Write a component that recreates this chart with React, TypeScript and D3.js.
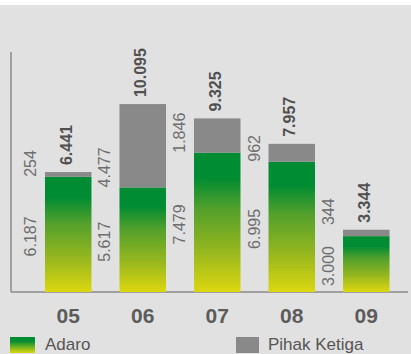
import React from "react";
import * as d3 from "d3";

const categories = ["05", "06", "07", "08", "09"];
const adaro = [6187, 5617, 7479, 6995, 3000];
const pihak = [254, 4477, 1846, 962, 344];
const totals = [6441, 10095, 9325, 7957, 3344];
const legendLabels = ["Adaro", "Pihak Ketiga"];

const W = 411;
const H = 354;
const fmt = (v: number) => d3.format(",")(v).replace(/,/g, ".");

export default function App() {
  const x = d3
    .scaleBand<string>()
    .domain(categories)
    .range([11, 423.5])
    .paddingInner(0.376)
    .paddingOuter(0.456);
  const y = d3.scaleLinear().domain([0, 12890]).range([292, 52]);
  const bw = x.bandwidth();
  const font = "'Liberation Sans', Arial, Helvetica, sans-serif";

  return (
    <svg
      width={W}
      height={H}
      style={{ position: "absolute", left: 0, top: 0, fontFamily: font }}
    >
      <defs>
        <linearGradient id="gBar" x1="0" y1="0" x2="0" y2="1">
          <stop offset="0" stopColor="#008c32" />
          <stop offset="0.18" stopColor="#008c32" />
          <stop offset="0.4" stopColor="#52a02c" />
          <stop offset="0.7" stopColor="#95b61f" />
          <stop offset="1" stopColor="#dcd70f" />
        </linearGradient>
        <linearGradient id="gLeg" x1="0" y1="0" x2="0" y2="1">
          <stop offset="0" stopColor="#008c32" />
          <stop offset="0.25" stopColor="#008c32" />
          <stop offset="1" stopColor="#dcd70f" />
        </linearGradient>
      </defs>
      <rect x={0} y={5} width={W} height={H - 5} fill="#e1e1e1" />
      <line x1={11} x2={11} y1={y.range()[1]} y2={y(0)} stroke="#8a8a8a" strokeWidth={1.5} />
      <line x1={11} x2={408} y1={y(0)} y2={y(0)} stroke="#8a8a8a" strokeWidth={1.5} />
      {categories.map((c, i) => {
        const x0 = x(c)!;
        const cx = x0 + bw / 2;
        const gTop = y(adaro[i]);
        const tTop = y(adaro[i] + pihak[i]);
        const adaroMid = (gTop + y(0)) / 2 + 2;
        const adaroTop = adaroMid - 21;
        const pStart = Math.min(gTop, adaroTop - 20);
        const lx = x0 - 9;
        return (
          <g key={c}>
            <rect x={x0} y={gTop} width={bw} height={y(0) - gTop} fill="url(#gBar)" />
            <rect x={x0} y={tTop} width={bw} height={gTop - tTop} fill="#898989" />
            <text
              transform={`translate(${lx},${adaroMid}) rotate(-90)`}
              textAnchor="middle"
              fontSize={16}
              fill="#6e6e6e"
            >
              {fmt(adaro[i])}
            </text>
            <text
              transform={`translate(${lx},${pStart}) rotate(-90)`}
              textAnchor="start"
              fontSize={16}
              fill="#6e6e6e"
            >
              {fmt(pihak[i])}
            </text>
            <text
              transform={`translate(${cx + 3.5},${tTop - 7}) rotate(-90)`}
              textAnchor="start"
              fontSize={16}
              fontWeight="bold"
              fill="#505050"
            >
              {fmt(totals[i])}
            </text>
            <text
              x={cx}
              y={323}
              textAnchor="middle"
              fontSize={21}
              fontWeight="bold"
              fill="#5c5c5c"
            >
              {c}
            </text>
          </g>
        );
      })}
      <rect x={10} y={337} width={25} height={16} fill="url(#gLeg)" />
      <text x={45} y={350} fontSize={17} fill="#555">
        {legendLabels[0]}
      </text>
      <rect x={236} y={337} width={23} height={16} fill="#898989" />
      <text x={268} y={350} fontSize={17} fill="#555">
        {legendLabels[1]}
      </text>
    </svg>
  );
}
